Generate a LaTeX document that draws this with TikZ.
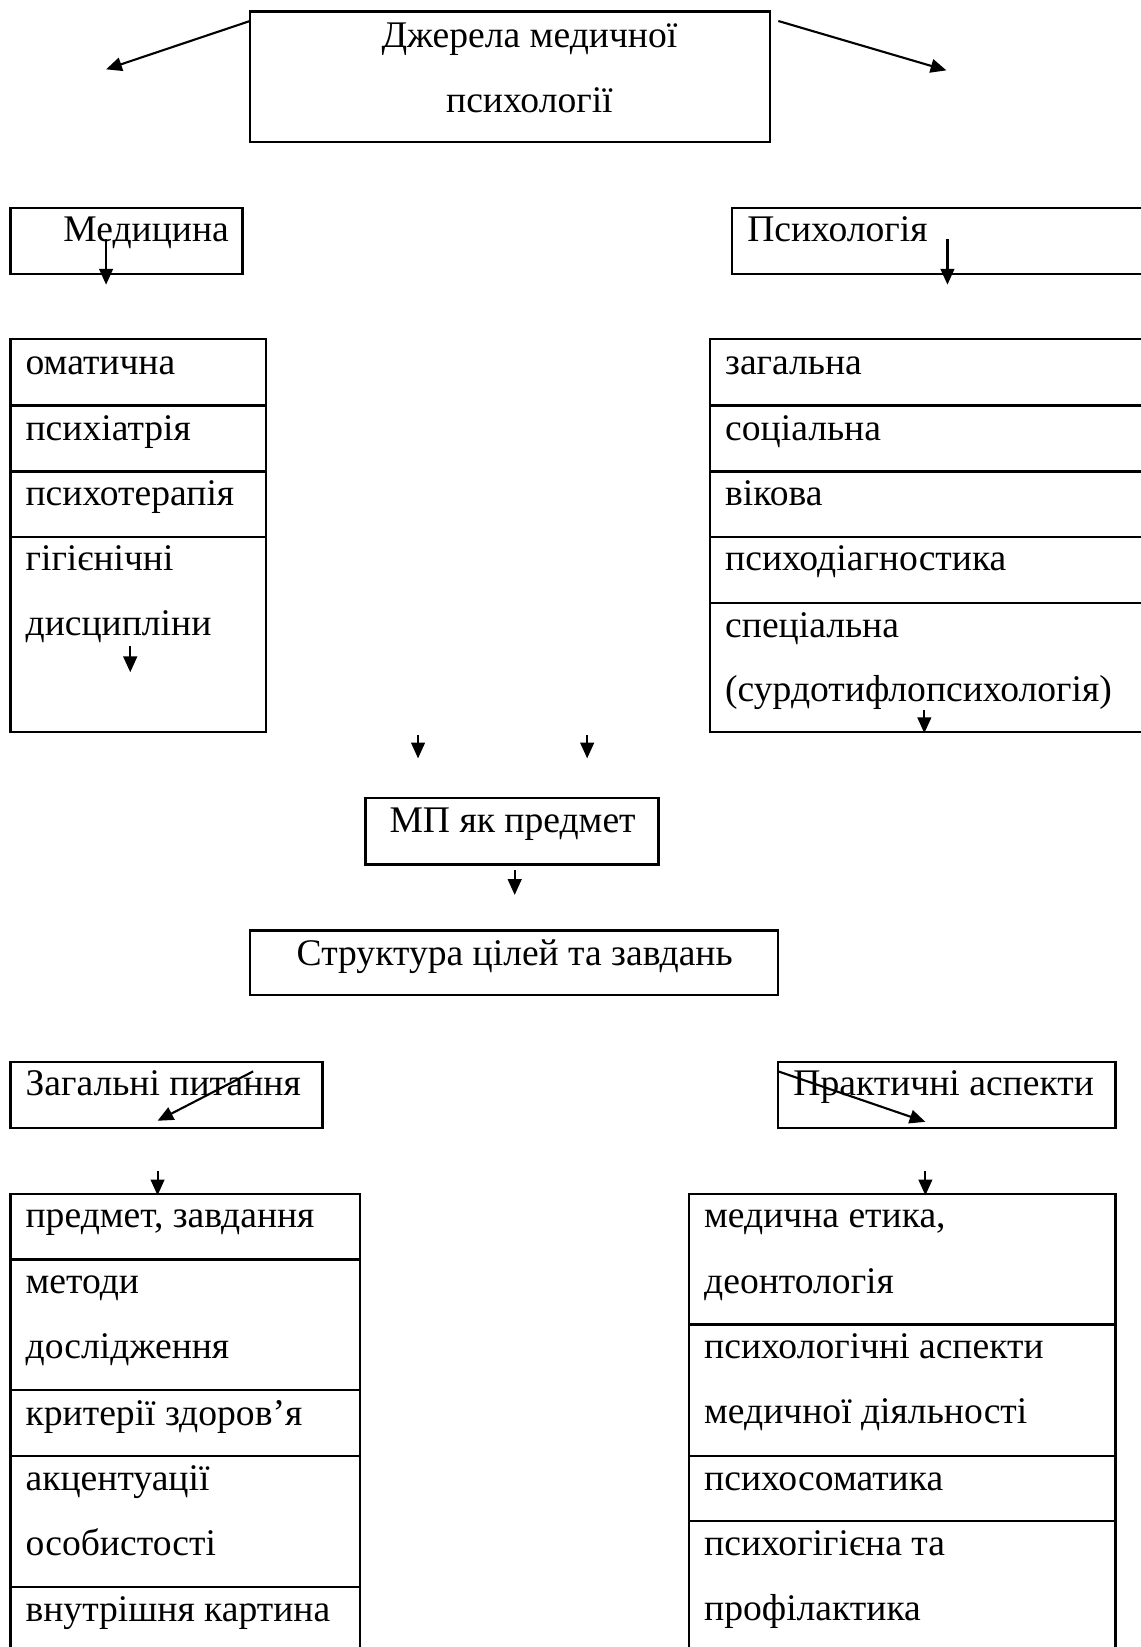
\documentclass[tikz,border=0pt]{standalone}
\usepackage{fontspec}
\setmainfont{Liberation Serif}
\usetikzlibrary{arrows.meta}
\tikzset{
    frame/.style={line width=1.1pt},
    arr/.style={line width=1pt, -{Triangle[length=7.5pt, width=6.5pt]}},
    lbl/.style={anchor=base west, inner sep=0pt, font=\fontsize{17.9}{20}\selectfont},
    mid/.style={anchor=base, inner sep=0pt, font=\fontsize{17.9}{20}\selectfont}
}

\begin{document}
\begin{tikzpicture}[x=0.5pt, y=-0.5pt]
\useasboundingbox (0,0) rectangle (1086,1568);
% boxes
\foreach \xa/\ya/\xb/\yb in {238/11/733/135, 10/198/231/261, 697/198/1100/261, 348/760/627/823, 238/886/741/947, 10/1011/307/1074, 741/1011/1062/1074}
    \draw[frame] (\xa,\ya) rectangle (\xb,\yb);
% lists
\draw[frame] (10,323) rectangle (253,697);
\foreach \y in {386,449,511} \draw[frame] (10,\y) -- (253,\y);
\draw[frame] (676,323) rectangle (1100,697);
\foreach \y in {386,449,511,574} \draw[frame] (676,\y) -- (1100,\y);
\draw[frame] (10,1590) |- (343,1137) -- (343,1590);
\foreach \y in {1199,1323,1386,1511} \draw[frame] (10,\y) -- (343,\y);
\draw[frame] (656,1590) |- (1062,1137) -- (1062,1590);
\foreach \y in {1261,1386,1448} \draw[frame] (656,\y) -- (1062,\y);
% titles
\node[mid] (src1) at (504,45) {Джерела медичної};
\node[mid] (src2) at (504,107) {психології};
\node[lbl] (med) at (60,230) {Медицина};
\node[lbl] (psy) at (711,230) {Психологія};
\node[mid] (mp) at (488,793) {МП як предмет};
\node[mid] (str) at (490,919) {Структура цілей та завдань};
\node[lbl] (gen) at (24,1043) {Загальні питання};
\node[lbl] (pra) at (755,1043) {Практичні аспекти};
% list items
\foreach \y/\t in {357/оматична, 419/психіатрія, 481/психотерапія, 543/гігієнічні, 605/дисципліни}
    \node[lbl] (m\y) at (24,\y) {\t};
\foreach \y/\t in {357/загальна, 419/соціальна, 481/вікова, 543/психодіагностика, 607/спеціальна, 668/(сурдотифлопсихологія)}
    \node[lbl] (p\y) at (690,\y) {\t};
\foreach \y/\t in {1169/{предмет, завдання}, 1231/методи, 1293/дослідження, 1357/критерії здоров’я, 1419/акцентуації, 1481/особистості, 1544/внутрішня картина}
    \node[lbl] (g\y) at (24,\y) {\t};
\foreach \y/\t in {1169/{медична етика,}, 1231/деонтологія, 1293/психологічні аспекти, 1355/медичної діяльності, 1419/психосоматика, 1481/психогігієна та, 1543/профілактика}
    \node[lbl] (r\y) at (670,\y) {\t};
% arrows
\foreach \p/\q/\xa/\ya/\xb/\yb in {srcl/medt/238/20/101/66, srcr/psyt/741/20/901/67, meda/medb/101/228/101/271, psya/psyb/902/228/902/271, mla/mlb/124/615/124/640, pla/plb/880/676/880/698, la/lb/398/700/398/722, ra/rb/559/700/559/722, mpa/mpb/490/828/490/852, gena/genb/241/1020/150/1067, praa/prab/741/1020/881/1068, gla/glb/150/1115/150/1138, rla/rlb/881/1115/881/1138}{
    \coordinate (\p) at (\xa,\ya);
    \coordinate (\q) at (\xb,\yb);
    \draw[arr] (\p) -- (\q);
}
\end{tikzpicture}
\end{document}
